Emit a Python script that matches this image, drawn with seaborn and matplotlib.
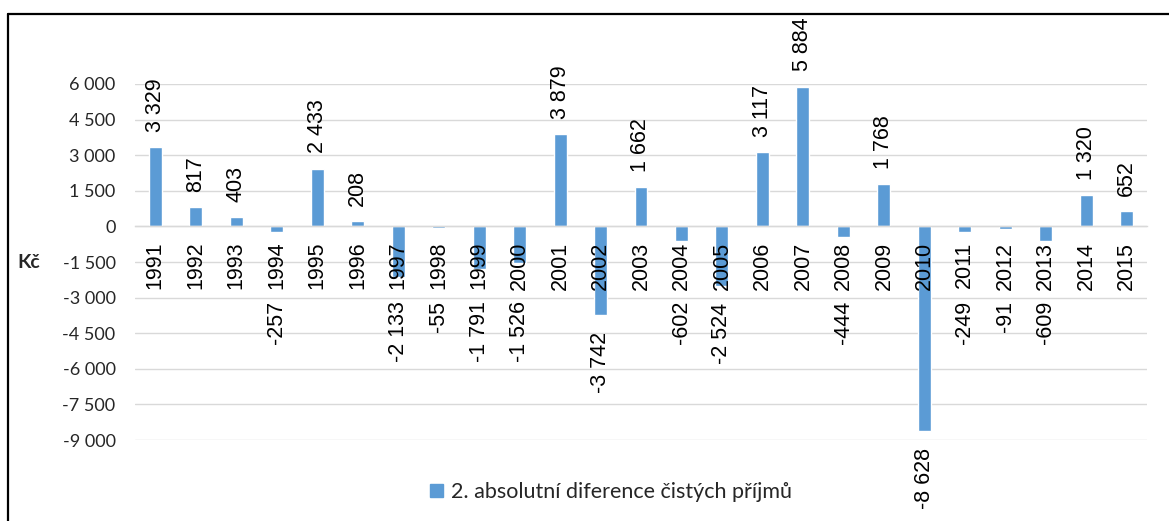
import matplotlib
matplotlib.use("Agg")
import matplotlib.pyplot as plt
from matplotlib.lines import Line2D
from matplotlib.patches import Patch
from matplotlib.ticker import FuncFormatter, MultipleLocator
import pandas as pd
import seaborn as sns

years = [str(y) for y in range(1991, 2016)]
values = [3329, 817, 403, -257, 2433, 208, -2133, -55, -1791, -1526,
          3879, -3742, 1662, -602, -2524, 3117, 5884, -444, 1768, -8628,
          -249, -91, -609, 1320, 652]
series_label = "2. absolutní diference čistých příjmů"
unit_label = "Kč"

BAR = "#5B9BD5"
GRID = "#D9D9D9"
TXT = "#262626"
W, H = 1169, 521


def fmt_thousands(v, pos=None):
    return f"{v:,.0f}".replace(",", " ")


def main():
    df = pd.DataFrame({"rok": years, "hodnota": values})

    sns.set_style("white")
    plt.rcParams["font.family"] = ["Liberation Sans", "DejaVu Sans"]

    fig = plt.figure(figsize=(W / 100, H / 100), dpi=100)
    ax = fig.add_axes([135 / W, 1 - 440 / H, (1147 - 135) / W, (440 - 84) / H])

    sns.barplot(data=df, x="rok", y="hodnota", color=BAR, width=0.32,
                saturation=1, ax=ax, zorder=2)

    ax.set_xlim(-0.5, len(years) - 0.5)
    ax.set_ylim(-9000, 6000)
    ax.yaxis.set_major_locator(MultipleLocator(1500))
    ax.yaxis.set_major_formatter(FuncFormatter(fmt_thousands))
    ax.yaxis.grid(True, color=GRID, lw=1, zorder=0)
    ax.set_axisbelow(True)
    ax.set_xlabel("")
    ax.set_ylabel("")

    for s in ["top", "right", "left"]:
        ax.spines[s].set_visible(False)
    ax.spines["bottom"].set_position(("data", 0))
    ax.spines["bottom"].set_color(GRID)
    ax.spines["bottom"].set_linewidth(1)

    ax.tick_params(axis="y", length=0, pad=14, labelsize=13, labelcolor=TXT)
    for lab in ax.get_yticklabels():
        lab.set_family(["Lato", "DejaVu Sans"])
    ax.tick_params(axis="x", length=0, labelbottom=False)

    # category labels sit on the zero line, drawn over the bars
    for i, yr in enumerate(years):
        ax.annotate(yr, (i, 0), xytext=(0, -11), textcoords="offset points",
                    rotation=90, ha="center", va="top", fontsize=15.5,
                    color="black", annotation_clip=False, zorder=5)

    # data labels
    for i, v in enumerate(values):
        txt = fmt_thousands(v)
        if v >= 0:
            ax.annotate(txt, (i, v), xytext=(0, 11), textcoords="offset points",
                        rotation=90, ha="center", va="bottom", fontsize=15.5,
                        color="black", annotation_clip=False, zorder=5)
        else:
            ax.annotate(txt, (i, min(v, -2444)), xytext=(0, -12),
                        textcoords="offset points", rotation=90, ha="center",
                        va="top", fontsize=15.5, color="black",
                        annotation_clip=False, zorder=5)

    fig.text(17 / W, 1 - 262 / H, unit_label, ha="left", va="center",
             fontsize=14, fontweight="bold", color=TXT,
             family=["Lato", "DejaVu Sans"])

    handle = Patch(facecolor=BAR, edgecolor=BAR)
    leg = fig.legend([handle], [series_label], loc="center",
                     bbox_to_anchor=(611 / W, 1 - 492 / H), frameon=False,
                     prop={"family": ["Lato", "DejaVu Sans"], "size": 15.5},
                     handlelength=0.6, handleheight=0.6, handletextpad=0.35)
    for t in leg.get_texts():
        t.set_color(TXT)

    # chart border (only left and top edges visible in the crop)
    fig.add_artist(Line2D([8 / W, 8 / W], [0, 1 - 14 / H], color="black",
                          lw=1.6, transform=fig.transFigure))
    fig.add_artist(Line2D([8 / W, 1], [1 - 14 / H, 1 - 14 / H], color="black",
                          lw=1.6, transform=fig.transFigure))

    fig.savefig("out.png", dpi=100)


if __name__ == "__main__":
    main()
